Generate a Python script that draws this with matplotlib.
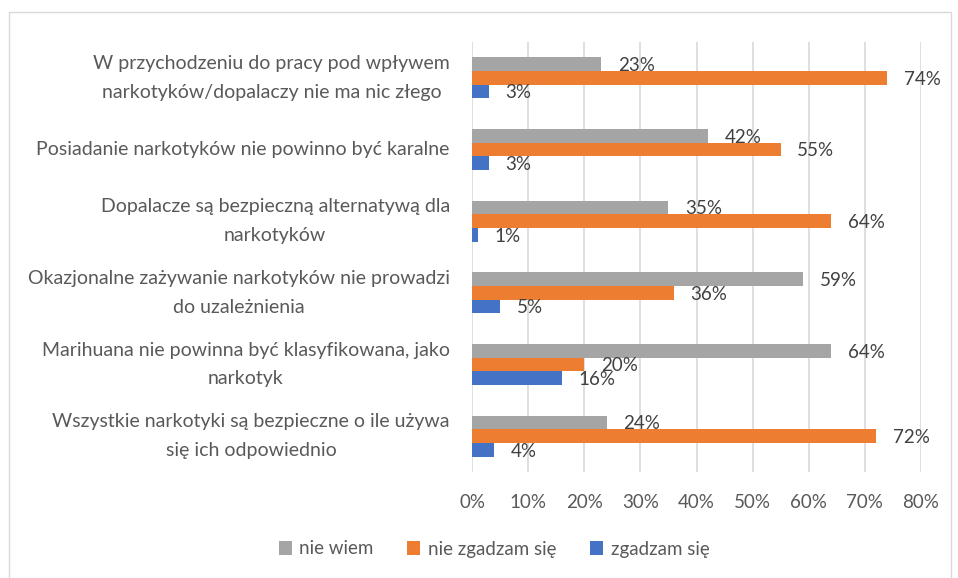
import numpy as np
import matplotlib.pyplot as plt
import matplotlib.transforms as mtransforms
from matplotlib.patches import Rectangle

categories = [
    "W przychodzeniu do pracy pod wpływem\nnarkotyków/dopalaczy nie ma nic złego",
    "Posiadanie narkotyków nie powinno być karalne",
    "Dopalacze są bezpieczną alternatywą dla\nnarkotyków",
    "Okazjonalne zażywanie narkotyków nie prowadzi\ndo uzależnienia",
    "Marihuana nie powinna być klasyfikowana, jako\nnarkotyk",
    "Wszystkie narkotyki są bezpieczne o ile używa\nsię ich odpowiednio",
]
series_names = ["nie wiem", "nie zgadzam się", "zgadzam się"]
nie_wiem = [23, 42, 35, 59, 64, 24]
nie_zgadzam = [74, 55, 64, 36, 20, 72]
zgadzam = [3, 3, 1, 5, 16, 4]
colors = ["#A5A5A5", "#ED7D31", "#4472C4"]
xticks = [0, 10, 20, 30, 40, 50, 60, 70, 80]

plt.rcParams["font.family"] = ["Lato", "DejaVu Sans"]
FS = 13.5

fig = plt.figure(figsize=(9.58, 5.78), dpi=100)
ax = fig.add_axes([472 / 958, 1 - 472 / 578, (921 - 472) / 958, (472 - 42) / 578])

y = np.arange(len(categories))
h = 0.19
for k, (vals, name, c) in enumerate(zip([nie_wiem, nie_zgadzam, zgadzam], series_names, colors)):
    pos = y + (k - 1) * h
    ax.barh(pos, vals, height=h, color=c, label=name, zorder=3)
    for p, v in zip(pos, vals):
        ax.annotate(f"{v}%", xy=(v, p), xytext=(12, -1), textcoords="offset points",
                    va="center", ha="left", fontsize=FS, color="#404040", zorder=4)

ax.set_xlim(0, 80)
ax.set_ylim(len(categories) - 0.5, -0.5)
ax.set_xticks(xticks)
ax.set_xticklabels([f"{t}%" for t in xticks])
ax.set_yticks([])
ax.tick_params(axis="both", length=0, labelsize=FS, labelcolor="#595959")
ax.tick_params(axis="x", pad=16)

# category labels, centred multi-line like Excel
trans = mtransforms.blended_transform_factory(ax.transAxes, ax.transData)
for yi, cat in zip(y, categories):
    ax.annotate(cat, xy=(0, yi), xycoords=trans, xytext=(-16, 0), textcoords="offset points",
                ha="right", va="center", multialignment="center", linespacing=1.85,
                fontsize=14, color="#595959")

ax.grid(axis="x", color="#D9D9D9", linewidth=1.2, zorder=0)
for s in ax.spines.values():
    s.set_visible(False)

fig.legend(loc="center", bbox_to_anchor=(494 / 958, 1 - 549 / 578), ncol=3, frameon=False,
           fontsize=FS, labelcolor="#595959", handlelength=0.7, handleheight=0.7,
           handletextpad=0.4, columnspacing=1.8)

fig.patches.append(Rectangle((9 / 958, -0.05), (951 - 9) / 958, 1.05 - 12 / 578,
                             transform=fig.transFigure, fill=False, edgecolor="#D9D9D9",
                             linewidth=1))

fig.savefig("out.png", dpi=100)
